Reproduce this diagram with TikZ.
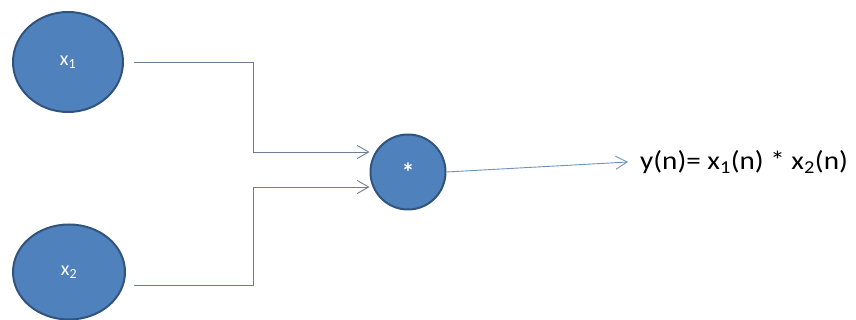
\documentclass[tikz,border=0pt]{standalone}
\usepackage{fontspec}
\setmainfont{Carlito}
\newfontfamily\widefont[FakeStretch=1.12]{Carlito}
\usetikzlibrary{arrows.meta,positioning,calc,shapes.geometric}
\definecolor{nodefill}{HTML}{4F81BD}
\definecolor{nodeedge}{HTML}{31547F}
\definecolor{wire}{HTML}{6A7F96}
\definecolor{wireout}{HTML}{6C93BD}
\tikzset{
  signal/.style={ellipse,draw=nodeedge,line width=2pt,fill=nodefill,inner sep=0pt,
    text=white,font=\fontsize{20}{24}\selectfont},
  wirearrow/.style={-{Straight Barb[length=4mm,width=4.6mm]},draw=wire,line width=0.9pt},
  outlabel/.style={font=\widefont\fontsize{26}{30}\selectfont,inner sep=0pt}
}

\begin{document}
\begin{tikzpicture}[x=1pt,y=1pt]
  \useasboundingbox (0,0) rectangle (856,320);
  \node[signal,minimum width=110pt,minimum height=100pt] (x1) at (68,258) {x\textsubscript{1}};
  \node[signal,minimum width=112pt,minimum height=95pt] (x2) at (69,48) {x\textsubscript{2}};
  \node[signal,circle,minimum size=75pt,font=\bfseries\fontsize{26}{30}\selectfont] (mult) at (408,148) {*};
  \node[outlabel,anchor=west] (y) at (640,158) {y(n)= x\textsubscript{1}(n) * x\textsubscript{2}(n)};
  % elbow points of the two inputs
  \coordinate (k1) at (253,168);
  \coordinate (k2) at (253,133);
  \draw[wirearrow] ([xshift=10pt]x1.east) -| (k1) -- (mult.west |- k1);
  \draw[wirearrow] ([shift={(65pt,-13pt)}]x2.center) -| (k2) -- (mult.west |- k2);
  \draw[wirearrow,draw=wireout] (mult.east) -- ([xshift=-12pt]y.west);
\end{tikzpicture}
\end{document}
